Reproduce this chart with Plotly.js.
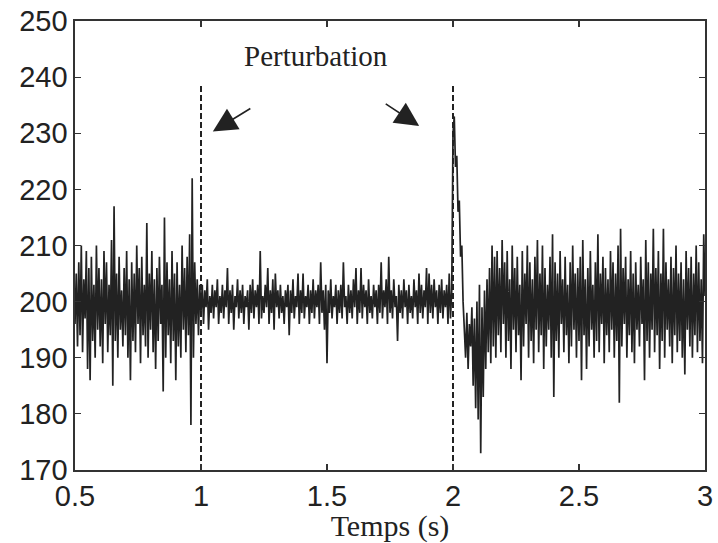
<!DOCTYPE html>
<html>
<head>
<meta charset="utf-8">
<script src="https://cdn.plot.ly/plotly-3.0.1.min.js"></script>
<style>html,body{margin:0;padding:0;background:#fff;}#chart{width:718px;height:543px;}</style>
</head>
<body>
<div id="chart"></div>
<script>
// Sampling step (s) and segment start times
var dt = 0.005;
var segStarts = [0.5, 1.0, 2.0, 2.2];

// Signal values, per segment
var segA = [196,205,192,207,194,210,191,204,197,209,
  188,206,186,208,193,203,190,210,195,206,
  192,204,189,209,196,207,191,203,194,211,
  185,217,193,205,190,208,195,202,192,206,
  194,209,190,204,186,207,193,205,191,210,
  196,206,189,208,194,203,192,214,190,205,
  195,209,191,204,188,206,193,208,196,203,
  184,215,190,207,194,204,189,209,193,205,
  186,207,192,203,190,210,195,206,191,208,
  194,212,178,222,190,207,196,204,194,203];

var segB = [198,203,196,202,199,204,195,201,198,203,
  197,202,199,204,196,201,198,203,197,202,
  199,206,196,202,198,203,195,201,199,204,
  197,202,198,203,196,201,199,202,195,203,
  198,204,197,202,199,203,196,209,197,201,
  198,203,199,206,196,202,198,204,195,205,
  199,202,197,203,198,201,196,202,199,203,
  194,202,198,204,197,201,199,205,196,202,
  198,205,197,201,199,203,196,202,198,204,
  197,202,199,203,196,207,198,202,195,203,
  189,202,198,204,197,201,199,203,196,202,
  198,203,197,207,199,201,196,203,198,202,
  197,204,199,206,196,202,198,206,197,203,
  199,202,196,204,198,201,197,203,199,202,
  196,203,198,207,197,202,199,204,196,208,
  198,202,197,204,199,201,193,203,198,202,
  197,204,199,202,196,203,198,201,197,204,
  199,202,196,205,198,203,197,202,199,206,
  196,205,198,203,197,204,199,202,196,203,
  198,204,197,202,199,203,196,205,197,202];

var segC = [230,233,224,226,216,218,208,210,200,195,
  190,198,188,196,192,199,185,197,181,200,
  179,203,173,199,183,202,188,204,191,206,
  189,210,192,208,190,209,194,206,191,211];

var segD = [196,207,190,209,193,204,188,210,195,206,
  191,208,194,203,186,209,192,205,196,210,
  190,207,193,204,189,208,195,211,191,205,
  194,210,188,206,192,203,195,208,190,212,
  183,207,193,205,190,209,196,204,191,208,
  194,203,189,207,192,210,195,205,190,206,
  193,208,186,211,194,204,188,206,192,209,
  195,203,190,207,193,212,191,205,196,208,
  189,206,194,204,191,209,195,207,190,205,
  193,210,182,213,192,206,196,208,190,204,
  194,209,191,205,189,207,195,203,192,208,
  196,204,186,211,193,207,190,205,195,213,
  191,206,194,209,188,205,193,213,190,207,
  195,204,192,208,189,206,194,210,191,205,
  193,207,190,204,187,209,195,206,192,208,
  190,205,194,210,191,207,193,204,189,212,
  201];

// Perturbation markers
var perturbTimes = [1.0, 2.0];
var markerRange = [170, 238.6];

var xTickVals = [0.5, 1, 1.5, 2, 2.5, 3];
var xTickText = ['0.5', '1', '1.5', '2', '2.5', '3'];
var yTickVals = [170, 180, 190, 200, 210, 220, 230, 240, 250];
var yTickText = ['170', '180', '190', '200', '210', '220', '230', '240', '250'];

var segs = [segA, segB, segC, segD];
var tx = [], vy = [];
segs.forEach(function (s, k) {
  for (var i = 0; i < s.length; i++) {
    tx.push(+(segStarts[k] + i * dt).toFixed(4));
    vy.push(s[i]);
  }
});

var traces = [{
  x: tx, y: vy, type: 'scatter', mode: 'lines',
  line: {color: '#222', width: 1.7}, hoverinfo: 'skip'
}];
perturbTimes.forEach(function (t) {
  traces.push({
    x: [t, t], y: markerRange, type: 'scatter', mode: 'lines',
    line: {color: '#222', width: 2, dash: '6px,3px'}, hoverinfo: 'skip'
  });
});

var tickFont = {family: 'Liberation Sans, Arial, sans-serif', size: 29, color: '#222'};
var serif = {family: 'Liberation Serif, Times New Roman, serif', size: 30, color: '#222'};

var layout = {
  width: 718, height: 543,
  margin: {l: 75, r: 13, t: 21, b: 73},
  paper_bgcolor: '#fff', plot_bgcolor: '#fff',
  showlegend: false,
  xaxis: {
    range: [0.5, 3], tickvals: xTickVals, ticktext: xTickText,
    ticks: 'inside', ticklen: 6, tickwidth: 1.2, tickcolor: '#333',
    showline: true, linecolor: '#333', linewidth: 1.6, mirror: 'allticks',
    showgrid: false, zeroline: false, tickfont: tickFont,
    title: {text: 'Temps (s)', font: serif, standoff: 0}
  },
  yaxis: {
    range: [170, 250], tickvals: yTickVals, ticktext: yTickText,
    ticks: 'inside', ticklen: 6, tickwidth: 1.2, tickcolor: '#333',
    showline: true, linecolor: '#333', linewidth: 1.6, mirror: 'allticks',
    showgrid: false, zeroline: false, tickfont: tickFont
  },
  annotations: [
    {x: 1.455, y: 243.7, xref: 'x', yref: 'y', text: 'Perturbation', showarrow: false,
     font: {family: 'Liberation Serif, Times New Roman, serif', size: 29, color: '#222'}},
    {x: 1.047, y: 230.3, xref: 'x', yref: 'y', text: '', showarrow: true,
     ax: 39, ay: -24, arrowhead: 2, arrowsize: 3, arrowwidth: 1.6, arrowcolor: '#222', standoff: 0},
    {x: 1.866, y: 231.3, xref: 'x', yref: 'y', text: '', showarrow: true,
     ax: -35, ay: -23, arrowhead: 2, arrowsize: 3, arrowwidth: 1.6, arrowcolor: '#222', standoff: 0}
  ]
};

Plotly.newPlot('chart', traces, layout, {staticPlot: true, displayModeBar: false});
</script>
</body>
</html>
